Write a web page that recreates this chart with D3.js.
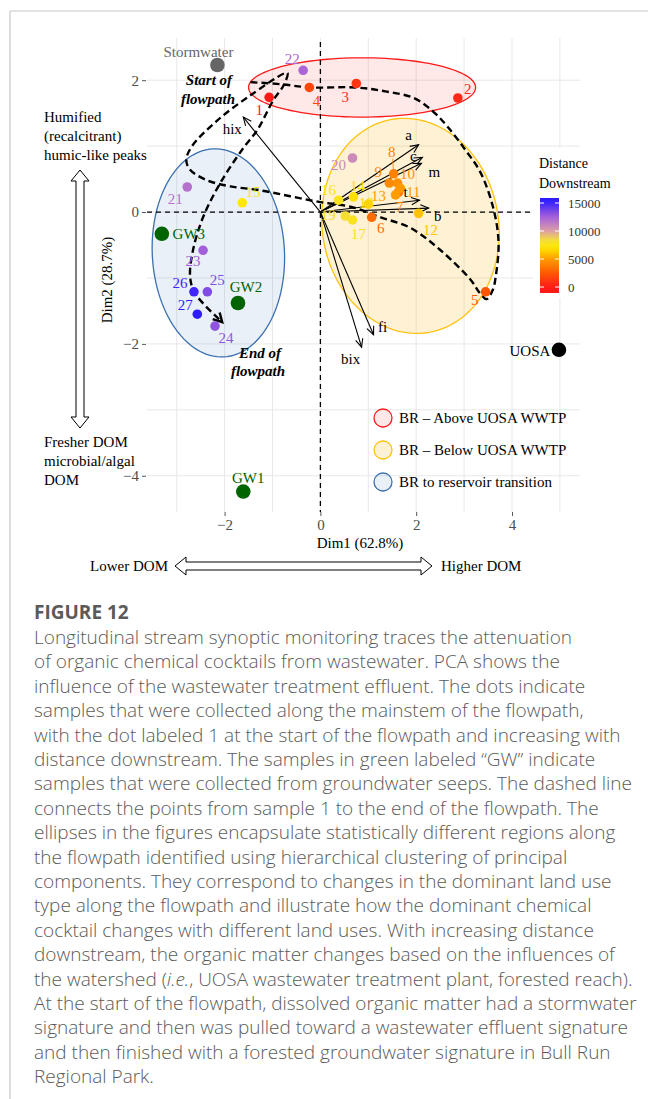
<!DOCTYPE html>
<html>
<head>
<meta charset="utf-8">
<script src="https://cdn.jsdelivr.net/npm/d3@7"></script>
<style>
  html, body { margin: 0; padding: 0; background: #fff; }
  svg { display: block; }
</style>
</head>
<body>
<svg id="fig" width="648" height="1099"></svg>
<script>
// ---- PCA scores of the mainstem samples ----
const sampleIds = [1,2,3,4,5,6,7,8,9,10,11,12,13,14,15,16,17,18,19,20,21,22,23,24,25,26,27];
const dim1 = [-1.07,2.87,0.75,-0.23,3.45,1.07,1.63,1.53,1.44,1.61,1.67,2.05,1.57,0.69,-1.63,0.38,0.67,1.00,0.52,0.67,-2.78,-0.36,-2.45,-2.20,-2.36,-2.64,-2.57];
const dim2 = [1.74,1.73,1.95,1.89,-1.21,-0.08,0.30,0.58,0.44,0.44,0.36,-0.02,0.26,0.23,0.14,0.18,-0.12,0.12,-0.06,0.82,0.38,2.15,-0.58,-1.73,-1.21,-1.21,-1.55];
const distance = [0,500,1000,1800,2400,3200,3600,4000,4300,4600,4900,6000,5000,6800,7200,7500,7800,6500,8200,10800,11800,12300,12600,13000,13400,15000,15400];

// ---- end-member samples ----
const endNames = ["Stormwater","UOSA","GW1","GW2","GW3"];
const endDim1 = [-2.15,4.98,-1.61,-1.72,-3.31];
const endDim2 = [2.23,-2.09,-4.24,-1.38,-0.33];
const endKind = ["storm","wwtp","gw","gw","gw"];

// ---- variable loadings ----
const loadNames = ["a","c","m","t","b","fi","bix","hix"];
const loadDim1 = [2.05,2.13,2.11,2.07,2.26,1.11,0.86,-1.61];
const loadDim2 = [1.02,0.83,0.74,0.18,0.06,-1.86,-2.05,1.44];

// ---- cluster ellipses ----
const clusterNames = ["BR \u2013 Above UOSA WWTP","BR \u2013 Below UOSA WWTP","BR to reservoir transition"];
const clusterCx = [0.87,1.88,-2.13];
const clusterCy = [1.89,-0.21,-0.62];
const clusterRx = [2.37,1.84,1.38];
const clusterRy = [0.45,1.64,1.58];
const clusterTilt = [0,-10,-3];

// ---- flowpath trace (Dim1, Dim2) ----
const flowX = [-1.46,-0.84,-0.21,0.73,1.36,1.95,2.36,2.66,3.03,3.35,3.62,3.72,3.66,3.60,3.47,3.33,3.14,2.51,1.88,1.26,0.63,0,-0.63,-1.26,-1.88,-2.36,-2.72,-2.80,-2.68,-2.15,-1.46,-0.69,-0.77,-0.98,-1.32,-1.61,-2.09,-2.45,-2.66,-2.72,-2.62,-2.05];
const flowY = [1.97,1.94,1.89,1.89,1.83,1.73,1.52,1.29,0.94,0.59,0.03,-0.47,-0.98,-1.18,-1.32,-1.23,-1.03,-0.58,-0.24,-0.08,0.08,0.15,0.24,0.33,0.39,0.48,0.64,0.79,1.00,1.39,1.77,2.11,1.92,1.70,1.24,0.97,0.44,-0.08,-0.58,-0.98,-1.23,-1.67];

// ---- axes ----
const xTicks = [-2,0,2,4];
const yTicks = [-4,-2,0,2];
const gridX = [-3,-2,-1,0,1,2,3,4,5];
const gridY = [-4,-3,-2,-1,0,1,2];
const colorbarTicks = [0,5000,10000,15000];

const captionTitle = "FIGURE 12";
const captionLines = [
  "Longitudinal stream synoptic monitoring traces the attenuation",
  "of organic chemical cocktails from wastewater. PCA shows the",
  "influence of the wastewater treatment effluent. The dots indicate",
  "samples that were collected along the mainstem of the flowpath,",
  "with the dot labeled 1 at the start of the flowpath and increasing with",
  "distance downstream. The samples in green labeled \u201cGW\u201d indicate",
  "samples that were collected from groundwater seeps. The dashed line",
  "connects the points from sample 1 to the end of the flowpath. The",
  "ellipses in the figures encapsulate statistically different regions along",
  "the flowpath identified using hierarchical clustering of principal",
  "components. They correspond to changes in the dominant land use",
  "type along the flowpath and illustrate how the dominant chemical",
  "cocktail changes with different land uses. With increasing distance",
  "downstream, the organic matter changes based on the influences of",
  "the watershed (|i.e.|, UOSA wastewater treatment plant, forested reach).",
  "At the start of the flowpath, dissolved organic matter had a stormwater",
  "signature and then was pulled toward a wastewater effluent signature",
  "and then finished with a forested groundwater signature in Bull Run",
  "Regional Park."
];

// ================= drawing =================
const svg = d3.select("#fig");
const serif = "'Liberation Serif','Times New Roman',serif";
const P = {left:147, right:580, top:38, bottom:512};

const x = d3.scaleLinear().domain([-3.62, 5.42]).range([P.left, P.right]);
const y = d3.scaleLinear().domain([-4.55, 2.64]).range([P.bottom, P.top]);

const distColor = d3.scaleLinear()
  .domain([0, 2500, 5000, 7000, 8500, 10000, 12500, 15500])
  .range(["#ff1a1a","#ff5a00","#ff9c00","#ffe800","#f4dc40","#dc9ea6","#a660da","#2a1aff"])
  .clamp(true);

svg.append("rect").attr("width",648).attr("height",1099).attr("fill","#fff");

// page frame
svg.append("line").attr("x1",10).attr("x2",648).attr("y1",11).attr("y2",11).attr("stroke","#c8c8c8").attr("stroke-width",1.2);
svg.append("line").attr("x1",10).attr("x2",10).attr("y1",11).attr("y2",1099).attr("stroke","#c8c8c8").attr("stroke-width",1.2);

// grid
const grid = svg.append("g").attr("stroke","#e8e8e8").attr("stroke-width",1);
grid.selectAll("line.gx").data(gridX).join("line")
  .attr("x1",d=>x(d)).attr("x2",d=>x(d)).attr("y1",P.top).attr("y2",P.bottom);
grid.selectAll("line.gy").data(gridY).join("line")
  .attr("y1",d=>y(d)).attr("y2",d=>y(d)).attr("x1",P.left).attr("x2",P.right);

// axes (ticks only, no domain line)
const xAxis = svg.append("g").attr("transform",`translate(0,${P.bottom})`)
  .call(d3.axisBottom(x).tickValues(xTicks).tickSize(4).tickPadding(3).tickFormat(d3.format("")));
const yAxis = svg.append("g").attr("transform",`translate(${P.left-1},0)`)
  .call(d3.axisLeft(y).tickValues(yTicks).tickSize(4).tickPadding(3).tickFormat(d3.format("")));
[xAxis,yAxis].forEach(a=>{
  a.select(".domain").remove();
  a.selectAll(".tick line").attr("stroke","#555");
  a.selectAll(".tick text").attr("fill","#4d4d4d").style("font-family",serif).style("font-size","15px");
});

// cluster ellipses
const ellStyle = [
  {fill:"rgba(255,0,0,0.09)", stroke:"#ff1a1a"},
  {fill:"rgba(255,190,40,0.2)", stroke:"#ffc20e"},
  {fill:"rgba(70,130,200,0.12)", stroke:"#3b70b0"}
];
const ellPath = (i) => {
  const pts = d3.range(0, 361, 3).map(t => {
    const r = t*Math.PI/180;
    return [x(clusterCx[i] + clusterRx[i]*Math.cos(r)), y(clusterCy[i] + clusterRy[i]*Math.sin(r))];
  });
  return d3.line()(pts) + "Z";
};
clusterNames.forEach((n,i)=>{
  svg.append("path").attr("d", ellPath(i))
    .attr("transform", `rotate(${clusterTilt[i]},${x(clusterCx[i])},${y(clusterCy[i])})`)
    .attr("fill", ellStyle[i].fill).attr("stroke", ellStyle[i].stroke).attr("stroke-width",1.3);
});

// zero reference lines
svg.append("line").attr("x1",P.left).attr("x2",P.right).attr("y1",y(0)).attr("y2",y(0))
  .attr("stroke","#000").attr("stroke-width",1.3).attr("stroke-dasharray","5,4");
svg.append("line").attr("x1",x(0)).attr("x2",x(0)).attr("y1",P.top+4).attr("y2",P.bottom)
  .attr("stroke","#000").attr("stroke-width",1.3).attr("stroke-dasharray","5,4");

// helper: open chevron arrow head
function chevron(g, x0, y0, x1, y1, len, ang, width) {
  const a = Math.atan2(y1-y0, x1-x0);
  const p1 = [x1 - len*Math.cos(a-ang), y1 - len*Math.sin(a-ang)];
  const p2 = [x1 - len*Math.cos(a+ang), y1 - len*Math.sin(a+ang)];
  g.append("path").attr("d", `M${p1[0]},${p1[1]}L${x1},${y1}L${p2[0]},${p2[1]}`)
    .attr("fill","none").attr("stroke","#000").attr("stroke-width",width).attr("stroke-linejoin","miter");
}

// loading arrows
const loadG = svg.append("g");
const loadNudge = {a:[-10,-10], c:[-9,-1], m:[13,9], t:[-14,-8], b:[9,8], fi:[9,-8], bix:[-11,12], hix:[-11,12]};
loadNames.forEach((n,i)=>{
  const x1 = x(loadDim1[i]), y1 = y(loadDim2[i]);
  loadG.append("line").attr("x1",x(0)).attr("y1",y(0)).attr("x2",x1).attr("y2",y1)
    .attr("stroke","#000").attr("stroke-width",1.1);
  chevron(loadG, x(0), y(0), x1, y1, 9, 0.42, 1.1);
});

// flowpath trace
const flowPts = flowX.map((v,i)=>[x(v), y(flowY[i])]);
svg.append("path").attr("d", d3.line().curve(d3.curveCatmullRom.alpha(0.5))(flowPts))
  .attr("fill","none").attr("stroke","#000").attr("stroke-width",2.4).attr("stroke-dasharray","7,4");
{
  const n = flowPts.length;
  chevron(svg, flowPts[n-2][0], flowPts[n-2][1], flowPts[n-1][0], flowPts[n-1][1], 10, 0.5, 2.4);
}

// mainstem sample points
svg.append("g").selectAll("circle").data(sampleIds).join("circle")
  .attr("cx",(d,i)=>x(dim1[i])).attr("cy",(d,i)=>y(dim2[i])).attr("r",4.8)
  .attr("fill",(d,i)=>distColor(distance[i]));

// end-member points
const endColor = {storm:"#666666", wwtp:"#000000", gw:"#006400"};
svg.append("g").selectAll("circle").data(endNames).join("circle")
  .attr("cx",(d,i)=>x(endDim1[i])).attr("cy",(d,i)=>y(endDim2[i])).attr("r",7.3)
  .attr("fill",(d,i)=>endColor[endKind[i]]);

// sample labels
const sampleNudge = {
  1:[-10,13],2:[10,-9],3:[-11,14],4:[7,14],5:[-11,8],6:[9,11],7:[1,15],8:[-2,-22],9:[-11,-11],
  10:[10,-9],11:[13,4],12:[12,17],13:[-17,1],14:[4,-11],15:[11,-11],16:[-10,-10],17:[6,14],
  18:[-2,-1],19:[-17,-1],20:[-14,7],21:[-12,12],22:[-11,-11],23:[-10,11],24:[11,12],
  25:[10,-12],26:[-14,-9],27:[-12,-9]
};
// leader from label 8 down to its point
{
  const i = sampleIds.indexOf(8);
  svg.append("line").attr("x1",x(dim1[i])-1).attr("y1",y(dim2[i])-15).attr("x2",x(dim1[i])).attr("y2",y(dim2[i]))
    .attr("stroke",distColor(distance[i])).attr("stroke-width",0.8);
}
svg.append("g").selectAll("text").data(sampleIds).join("text")
  .attr("x",(d,i)=>x(dim1[i]) + sampleNudge[d][0])
  .attr("y",(d,i)=>y(dim2[i]) + sampleNudge[d][1])
  .attr("text-anchor","middle").attr("dominant-baseline","central")
  .style("font-family",serif).style("font-size","15px")
  .attr("fill",(d,i)=>distColor(distance[i]))
  .text(d=>d);

// end-member labels
const endNudge = {Stormwater:[-19,-13], UOSA:[-29,1], GW1:[5,-14], GW2:[8,-16], GW3:[27,0]};
svg.append("g").selectAll("text").data(endNames).join("text")
  .attr("x",(d,i)=>x(endDim1[i]) + endNudge[d][0])
  .attr("y",(d,i)=>y(endDim2[i]) + endNudge[d][1])
  .attr("text-anchor","middle").attr("dominant-baseline","central")
  .style("font-family",serif).style("font-size","15px")
  .attr("fill",(d,i)=>endKind[i]==="gw" ? "#006400" : (endKind[i]==="storm" ? "#666" : "#000"))
  .text(d=>d);

// loading labels
svg.append("g").selectAll("text").data(loadNames).join("text")
  .attr("x",(d,i)=>x(loadDim1[i]) + loadNudge[d][0])
  .attr("y",(d,i)=>y(loadDim2[i]) + loadNudge[d][1])
  .attr("text-anchor","middle").attr("dominant-baseline","central")
  .style("font-family",serif).style("font-size","15px").attr("fill","#000")
  .text(d=>d);

// flowpath annotations
const ann = svg.append("g").style("font-family",serif).style("font-size","15px")
  .style("font-weight","bold").style("font-style","italic").attr("text-anchor","middle");
ann.append("text").attr("x",209).attr("y",85).text("Start of");
ann.append("text").attr("x",208).attr("y",104).text("flowpath");
ann.append("text").attr("x",260).attr("y",358).text("End of");
ann.append("text").attr("x",258).attr("y",376).text("flowpath");

// axis titles and side annotations
const t = svg.append("g").style("font-family",serif).style("font-size","15px").attr("fill","#000");
t.append("text").attr("x",360).attr("y",548).attr("text-anchor","middle").text("Dim1 (62.8%)");
t.append("text").attr("transform","translate(112,280) rotate(-90)").attr("text-anchor","middle").text("Dim2 (28.7%)");
["Humified","(recalcitrant)","humic-like peaks"].forEach((s,i)=>
  t.append("text").attr("x",44).attr("y",122+i*19).text(s));
["Fresher DOM","microbial/algal","DOM"].forEach((s,i)=>
  t.append("text").attr("x",44).attr("y",447+i*19).text(s));
t.append("text").attr("x",168).attr("y",571).attr("text-anchor","end").text("Lower DOM");
t.append("text").attr("x",441).attr("y",571).text("Higher DOM");

// hollow double-headed block arrows
function blockArrowV(cx, y0, y1) {
  const s = 4, h = 9, L = 11;
  const d = `M${cx},${y0} L${cx+h},${y0+L} L${cx+s},${y0+L} L${cx+s},${y1-L} L${cx+h},${y1-L} L${cx},${y1}
             L${cx-h},${y1-L} L${cx-s},${y1-L} L${cx-s},${y0+L} L${cx-h},${y0+L} Z`;
  svg.append("path").attr("d",d).attr("fill","#fff").attr("stroke","#000").attr("stroke-width",1);
}
function blockArrowH(cy, x0, x1) {
  const s = 4, h = 9, L = 11;
  const d = `M${x0},${cy} L${x0+L},${cy-h} L${x0+L},${cy-s} L${x1-L},${cy-s} L${x1-L},${cy-h} L${x1},${cy}
             L${x1-L},${cy+h} L${x1-L},${cy+s} L${x0+L},${cy+s} L${x0+L},${cy+h} Z`;
  svg.append("path").attr("d",d).attr("fill","#fff").attr("stroke","#000").attr("stroke-width",1);
}
blockArrowV(80, 170, 428);
blockArrowH(566, 175, 432);

// cluster legend
const lg = svg.append("g");
clusterNames.forEach((n,i)=>{
  const cy = 418 + i*32;
  lg.append("circle").attr("cx",383).attr("cy",cy).attr("r",9)
    .attr("fill", ellStyle[i].fill).attr("stroke", ellStyle[i].stroke).attr("stroke-width",1.3);
  lg.append("text").attr("x",399).attr("y",cy).attr("dominant-baseline","central")
    .style("font-family",serif).style("font-size","15px").text(n);
});

// distance colour bar
const cb = svg.append("g");
cb.append("rect").attr("x",533).attr("y",148).attr("width",100).attr("height",150).attr("fill","#fff");
cb.append("text").attr("x",539).attr("y",168).style("font-family",serif).style("font-size","14px").text("Distance");
cb.append("text").attr("x",539).attr("y",188).style("font-family",serif).style("font-size","14px").text("Downstream");
const cbTop = 198, cbBot = 293;
const cbY = d3.scaleLinear().domain([0,15000]).range([287,203]);
const grad = svg.append("defs").append("linearGradient").attr("id","distGrad")
  .attr("x1",0).attr("x2",0).attr("y1",1).attr("y2",0);
d3.range(0,1.0001,0.05).forEach(f=>{
  const v = cbY.invert(cbBot - f*(cbBot-cbTop));
  grad.append("stop").attr("offset",f).attr("stop-color",distColor(v));
});
cb.append("rect").attr("x",540).attr("y",cbTop).attr("width",19).attr("height",cbBot-cbTop).attr("fill","url(#distGrad)");
colorbarTicks.forEach(v=>{
  cb.append("line").attr("x1",540).attr("x2",544).attr("y1",cbY(v)).attr("y2",cbY(v)).attr("stroke","#fff");
  cb.append("line").attr("x1",555).attr("x2",559).attr("y1",cbY(v)).attr("y2",cbY(v)).attr("stroke","#fff");
  cb.append("text").attr("x",568).attr("y",cbY(v)).attr("dominant-baseline","central")
    .style("font-family",serif).style("font-size","13px").attr("fill","#333").text(v);
});

// caption
const cap = svg.append("g").style("font-family","'Open Sans',sans-serif").attr("fill","#5a5a5a");
cap.append("text").attr("x",34).attr("y",619).style("font-size","19px").style("font-weight","bold").text(captionTitle);
captionLines.forEach((line,i)=>{
  const te = cap.append("text").attr("x",34).attr("y",644 + i*24.4).style("font-size","19px").style("font-weight","300");
  line.split("|").forEach((part,k)=>{
    te.append("tspan").style("font-style", k%2 ? "italic" : "normal").text(part);
  });
});
</script>
</body>
</html>
